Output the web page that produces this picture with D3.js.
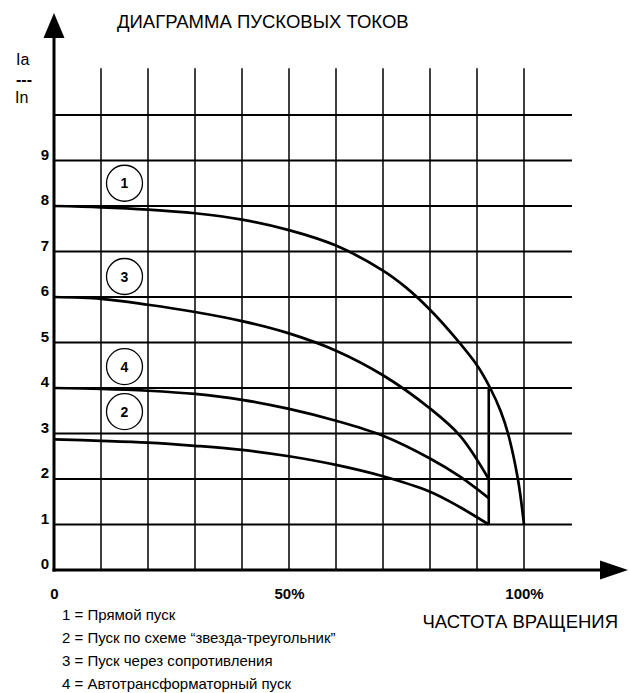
<!DOCTYPE html>
<html>
<head>
<meta charset="utf-8">
<script src="https://cdn.jsdelivr.net/npm/d3@7"></script>
<style>
  html, body { margin: 0; padding: 0; background: #fff; }
  svg { display: block; }
  text { font-family: "Liberation Sans", Arial, sans-serif; fill: #000; }
</style>
</head>
<body>
<svg id="chart" width="630" height="693"></svg>
<script>
// Starting current (Ia / In) versus rotation speed (%) for four starting methods
const speedPct = [0, 10, 20, 30, 40, 50, 60, 70, 80, 86.4, 92.5];

// 1 — direct-on-line start (runs on to 100 %)
const directSpeed   = [0, 10, 20, 30, 40, 50, 60, 70, 75, 80, 85, 90, 92.8, 95, 96.6, 98.7, 100];
const directCurrent = [8.0, 7.97, 7.92, 7.84, 7.7, 7.47, 7.13, 6.58, 6.2, 5.72, 5.15, 4.5, 4.0, 3.5, 3.0, 2.0, 1.0];
// 2 — star-delta
const starDelta     = [2.87, 2.84, 2.8, 2.73, 2.64, 2.5, 2.31, 2.06, 1.72, 1.38, 1.0];
// 3 — resistor start
const resistor      = [6.0, 5.96, 5.83, 5.67, 5.47, 5.2, 4.82, 4.28, 3.55, 2.95, 2.0];
// 4 — autotransformer start
const autotrans     = [4.0, 3.98, 3.94, 3.87, 3.74, 3.54, 3.28, 2.95, 2.45, 2.05, 1.58];

// Switch-over step at the end of the reduced-voltage curves
const switchSpeed = 92.5;
const switchRange = [4, 1];

const yTicks = [0, 1, 2, 3, 4, 5, 6, 7, 8, 9];
const hGrid  = [1, 2, 3, 4, 5, 6, 7, 8, 9, 10];
const vGrid  = [10, 20, 30, 40, 50, 60, 70, 80, 90, 100];
const xTickValues = [0, 50, 100];
const xTickLabels = ["0", "50%", "100%"];

const markerNames  = ["1", "3", "4", "2"];
const markerLevels = [8.5, 6.45, 4.47, 3.48];
const markerSpeed  = 15;

const legendLines = [
  "1 = Прямой пуск",
  "2 = Пуск по схеме “звезда-треугольник”",
  "3 = Пуск через сопротивления",
  "4 = Автотрансформаторный пуск"
];

const svg = d3.select("#chart");
const x = d3.scaleLinear().domain([0, 100]).range([54, 524]);
const y = d3.scaleLinear().domain([0, 10]).range([570, 115]);

// grid
const grid = svg.append("g").attr("stroke", "#000");
grid.selectAll("line.h").data(hGrid).join("line")
  .attr("class", "h")
  .attr("x1", x(0)).attr("x2", x(110.2))
  .attr("y1", d => y(d)).attr("y2", d => y(d))
  .attr("stroke-width", 1.9);
grid.selectAll("line.v").data(vGrid).join("line")
  .attr("class", "v")
  .attr("x1", d => x(d)).attr("x2", d => x(d))
  .attr("y1", y(0)).attr("y2", y(11.03))
  .attr("stroke-width", 1.5);

// curves
const line = d3.line()
  .x(d => x(d[0]))
  .y(d => y(d[1]))
  .curve(d3.curveCatmullRom.alpha(0.5));

const series = [
  d3.zip(directSpeed, directCurrent),
  d3.zip(speedPct, starDelta),
  d3.zip(speedPct, resistor),
  d3.zip(speedPct, autotrans)
];
svg.append("g").selectAll("path").data(series).join("path")
  .attr("d", line)
  .attr("fill", "none")
  .attr("stroke", "#000")
  .attr("stroke-width", 2.7)
  .attr("stroke-linejoin", "round");

svg.append("line")
  .attr("x1", x(switchSpeed)).attr("x2", x(switchSpeed))
  .attr("y1", y(switchRange[0])).attr("y2", y(switchRange[1]))
  .attr("stroke", "#000").attr("stroke-width", 2.6);

// axes lines with arrowheads
svg.append("line")
  .attr("x1", x(0)).attr("x2", x(0))
  .attr("y1", y(0) + 1.5).attr("y2", 36)
  .attr("stroke", "#000").attr("stroke-width", 3);
svg.append("path")
  .attr("d", `M${x(0)},13 L${x(0) - 10.5},38 L${x(0) + 10.5},38 Z`)
  .attr("fill", "#000");

svg.append("line")
  .attr("x1", x(0) - 1.5).attr("x2", 602)
  .attr("y1", y(0)).attr("y2", y(0))
  .attr("stroke", "#000").attr("stroke-width", 3);
svg.append("path")
  .attr("d", `M628,${y(0)} L600,${y(0) - 9.5} L600,${y(0) + 9.5} Z`)
  .attr("fill", "#000");

// y tick labels
const yAxis = svg.append("g")
  .attr("transform", `translate(${x(0)},0)`)
  .call(d3.axisLeft(y).tickValues(yTicks).tickSize(0).tickPadding(5).tickFormat(d3.format("d")));
yAxis.select(".domain").remove();
yAxis.selectAll("text")
  .attr("dy", "-0.08em")
  .style("font-family", "'Liberation Sans', Arial, sans-serif")
  .style("font-size", "15px")
  .style("font-weight", "bold")
  .attr("fill", "#000");

// x tick labels
const xAxis = svg.append("g")
  .attr("transform", `translate(0,${y(0)})`)
  .call(d3.axisBottom(x).tickValues(xTickValues).tickSize(0).tickPadding(18)
    .tickFormat((d, i) => xTickLabels[i]));
xAxis.select(".domain").remove();
xAxis.selectAll("text")
  .style("font-family", "'Liberation Sans', Arial, sans-serif")
  .style("font-size", "15px")
  .style("font-weight", "bold")
  .attr("fill", "#000");

// numbered circle markers
const markers = svg.append("g").selectAll("g").data(markerNames).join("g")
  .attr("transform", (d, i) => `translate(${x(markerSpeed)},${y(markerLevels[i])})`);
markers.append("circle")
  .attr("r", 18)
  .attr("fill", "#fff")
  .attr("stroke", "#000")
  .attr("stroke-width", 1.3);
markers.append("text")
  .attr("text-anchor", "middle")
  .attr("dy", "0.36em")
  .style("font-size", "14px")
  .style("font-weight", "bold")
  .text(d => d);

// titles
svg.append("text")
  .attr("x", 117).attr("y", 28)
  .style("font-size", "18.5px")
  .text("ДИАГРАММА ПУСКОВЫХ ТОКОВ");

svg.append("text").attr("x", 16).attr("y", 65).style("font-size", "16px").text("Ia");
svg.append("text").attr("x", 16).attr("y", 85).style("font-size", "16px").style("font-weight", "bold").text("---");
svg.append("text").attr("x", 15).attr("y", 103).style("font-size", "16px").text("In");

svg.append("text")
  .attr("x", 618).attr("y", 628)
  .attr("text-anchor", "end")
  .style("font-size", "18.5px")
  .text("ЧАСТОТА ВРАЩЕНИЯ");

// legend
svg.append("g").selectAll("text").data(legendLines).join("text")
  .attr("x", 62)
  .attr("y", (d, i) => 620 + i * 23)
  .style("font-size", "15px")
  .text(d => d);
</script>
</body>
</html>
